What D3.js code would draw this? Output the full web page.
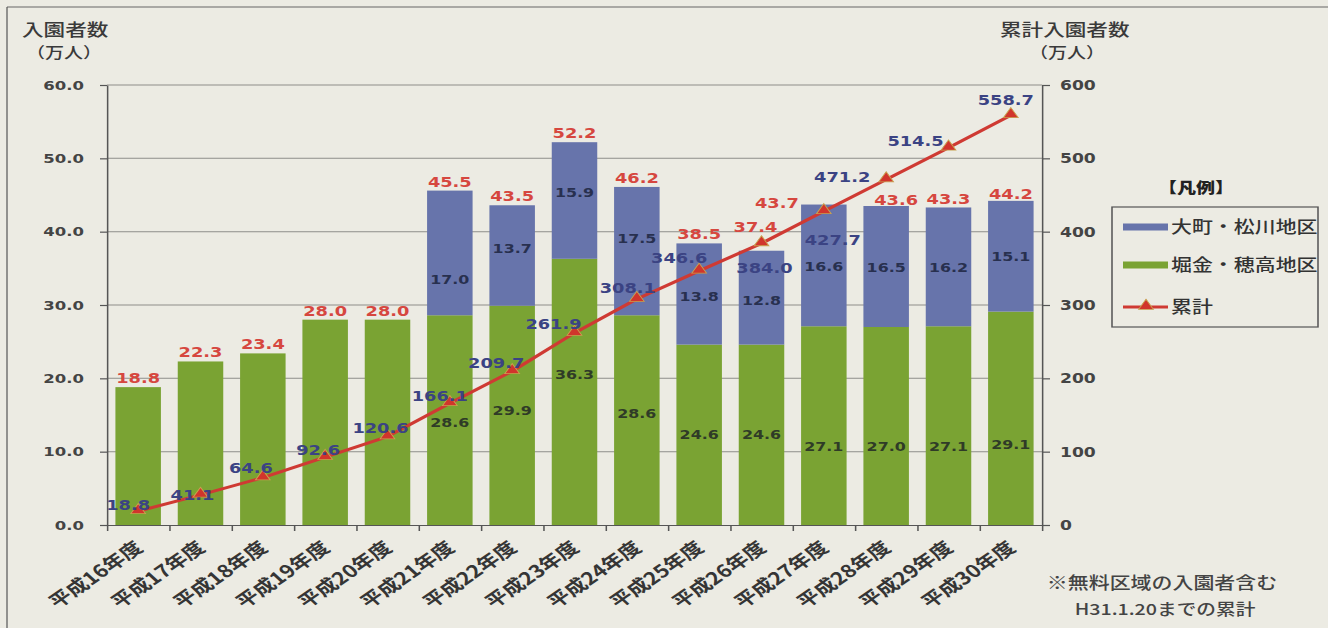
<!DOCTYPE html>
<html>
<head>
<meta charset="utf-8">
<script src="https://cdn.jsdelivr.net/npm/d3@7"></script>
<style>
  html, body { margin: 0; padding: 0; background: #ecebe3; }
  svg { display: block; }
</style>
</head>
<body>
<svg id="chart" width="1328" height="628"></svg>
<script>
// ---- data ----
const categories = ["平成16年度","平成17年度","平成18年度","平成19年度","平成20年度",
  "平成21年度","平成22年度","平成23年度","平成24年度","平成25年度",
  "平成26年度","平成27年度","平成28年度","平成29年度","平成30年度"];
const hotakaValues = [18.8, 22.3, 23.4, 28.0, 28.0, 28.6, 29.9, 36.3, 28.6, 24.6, 24.6, 27.1, 27.0, 27.1, 29.1];
const omachiValues = [0, 0, 0, 0, 0, 17.0, 13.7, 15.9, 17.5, 13.8, 12.8, 16.6, 16.5, 16.2, 15.1];
const totalValues = [18.8, 22.3, 23.4, 28.0, 28.0, 45.5, 43.5, 52.2, 46.2, 38.5, 37.4, 43.7, 43.6, 43.3, 44.2];
const cumulativeValues = [18.8, 41.1, 64.6, 92.6, 120.6, 166.1, 209.7, 261.9, 308.1, 346.6, 384.0, 427.7, 471.2, 514.5, 558.7];
const leftTicks = [0, 10, 20, 30, 40, 50, 60];
const rightTicks = [0, 100, 200, 300, 400, 500, 600];
const seriesNames = ["大町・松川地区", "堀金・穂高地区", "累計"];

// ---- layout ----
const SX = 1.27;                 // horizontal stretch applied to the whole drawing
const ux = px => px / SX;        // screen x -> drawing x
const plot = { left: 107, right: 1042, top: 85, bottom: 525 };
const colors = { omachi: "#6774ab", hotaka: "#7aa333", line: "#cf3a33",
  total: "#d6473f", cum: "#3b4383", axis: "#555", grid: "#8e8e8a", text: "#3a3a3a" };
const numFont = "'DejaVu Sans', Verdana, sans-serif";
const jpFont = "'Noto Sans CJK JP', 'Noto Sans', sans-serif";

// label nudges (screen px) for the cumulative labels, relative to each point
const cumNudge = [[-10,-6],[-8,0],[-12,-10],[-7,-7],[-7,-9],[-10,-7],[-16,-8],[-21,-9],
  [-9,-11],[-20,-13],[3,25],[9,29],[-44,-2],[-33,-7],[-5,-15]];
// nudges (screen px) for the total labels above the bars
const totalNudge = [[0,0],[0,0],[0,0],[0,0],[0,0],[0,0],[0,0],[0,0],[0,0],[0,0],
  [-6,-15],[-47,7],[10,3],[0,1],[0,2]];
// vertical nudges (screen px) for labels inside the segments
const omachiNudge = [0,0,0,0,0,27,-7,-8,-13,3,3,1,1,1,0];
const hotakaNudge = [0,0,0,0,0,2,-5,-17,-7,0,0,21,21,21,26];

const svg = d3.select("#chart");
svg.append("rect").attr("width", 1328).attr("height", 628).attr("fill", "#ecebe3");

// outer frame (top and left edges)
svg.append("line").attr("x1", 7).attr("x2", 1328).attr("y1", 7).attr("y2", 7)
  .attr("stroke", "#666").attr("stroke-width", 1.2);
svg.append("line").attr("x1", 7).attr("x2", 7).attr("y1", 7).attr("y2", 628)
  .attr("stroke", "#555").attr("stroke-width", 1.2);

const root = svg.append("g").attr("transform", `scale(${SX},1)`);

// ---- scales ----
const x = d3.scaleBand().domain(categories)
  .range([ux(plot.left), ux(plot.right)])
  .paddingInner(0.27).paddingOuter(0.135);
const xEdges = d3.scaleLinear().domain([0, categories.length])
  .range([ux(plot.left), ux(plot.right)]);
const yL = d3.scaleLinear().domain([0, 60]).range([plot.bottom, plot.top]);
const yR = d3.scaleLinear().domain([0, 600]).range([plot.bottom, plot.top]);
const cx = c => x(c) + x.bandwidth() / 2;

// ---- grid ----
root.append("g").selectAll("line").data(leftTicks.filter(v => v > 0)).join("line")
  .attr("x1", ux(plot.left)).attr("x2", ux(plot.right))
  .attr("y1", d => yL(d)).attr("y2", d => yL(d))
  .attr("stroke", colors.grid).attr("stroke-width", 1);

// ---- stacked bars ----
const rows = categories.map((c, i) => ({ cat: c, hotaka: hotakaValues[i], omachi: omachiValues[i] }));
const stacked = d3.stack().keys(["hotaka", "omachi"])(rows);
const fills = { hotaka: colors.hotaka, omachi: colors.omachi };
root.append("g").selectAll("g").data(stacked).join("g")
  .attr("fill", s => fills[s.key])
  .selectAll("rect").data(s => s.filter(d => d[1] > d[0])).join("rect")
  .attr("x", d => x(d.data.cat))
  .attr("width", x.bandwidth())
  .attr("y", d => yL(d[1]))
  .attr("height", d => yL(d[0]) - yL(d[1]));

// ---- axes ----
const styleAxis = (g, size) => {
  g.select(".domain").attr("stroke", colors.axis).attr("stroke-width", 1.2);
  g.selectAll(".tick line").attr("stroke", colors.axis).attr("stroke-width", 1.2);
  g.selectAll(".tick text").attr("fill", "#444").attr("font-family", numFont)
    .attr("font-weight", "bold").attr("font-size", size);
};
root.append("g").attr("transform", `translate(${ux(plot.left)},0)`)
  .call(d3.axisLeft(yL).tickValues(leftTicks).tickFormat(d3.format(".1f"))
    .tickSize(ux(7)).tickSizeOuter(0).tickPadding(ux(16)))
  .call(g => styleAxis(g, 13));
root.append("g").attr("transform", `translate(${ux(plot.right)},0)`)
  .call(d3.axisRight(yR).tickValues(rightTicks).tickFormat(d3.format("d"))
    .tickSize(ux(8)).tickSizeOuter(0).tickPadding(ux(10)))
  .call(g => styleAxis(g, 13.5));
root.append("g").attr("transform", `translate(0,${plot.bottom})`)
  .call(d3.axisBottom(xEdges).tickValues(d3.range(categories.length + 1))
    .tickFormat("").tickSize(6).tickSizeOuter(0))
  .call(g => styleAxis(g, 12));

// category labels, rotated
root.append("g").selectAll("text").data(categories).join("text")
  .attr("transform", c => `translate(${cx(c) + ux(1)},${plot.bottom + 20}) rotate(-41)`)
  .attr("text-anchor", "end").attr("dy", "0.35em")
  .attr("font-family", jpFont).attr("font-weight", 600).attr("font-size", 17.5)
  .attr("fill", "#353535").text(c => c);

// ---- segment labels ----
const segLabel = (vals, base, nudge, color) => {
  root.append("g").selectAll("text")
    .data(categories.map((c, i) => ({ c, i })).filter(d => omachiValues[d.i] > 0))
    .join("text")
    .attr("x", d => cx(d.c))
    .attr("y", d => yL(base(d.i) + vals[d.i] / 2) + nudge[d.i])
    .attr("dy", "0.36em").attr("text-anchor", "middle")
    .attr("font-family", numFont).attr("font-weight", "bold").attr("font-size", 12.5)
    .attr("fill", color).text(d => vals[d.i].toFixed(1));
};
segLabel(hotakaValues, () => 0, hotakaNudge, "#2f3b27");
segLabel(omachiValues, i => hotakaValues[i], omachiNudge, "#28304f");

// totals above bars
root.append("g").selectAll("text").data(categories).join("text")
  .attr("x", (c, i) => cx(c) + ux(totalNudge[i][0]))
  .attr("y", (c, i) => yL(hotakaValues[i] + omachiValues[i]) - 4 + totalNudge[i][1])
  .attr("text-anchor", "middle")
  .attr("font-family", numFont).attr("font-weight", "bold").attr("font-size", 14)
  .attr("fill", colors.total).text((c, i) => totalValues[i].toFixed(1));

// ---- cumulative line ----
const line = d3.line().x((d, i) => cx(categories[i])).y(d => yR(d));
root.append("path").datum(cumulativeValues)
  .attr("d", line).attr("fill", "none")
  .attr("stroke", colors.line).attr("stroke-width", 3).attr("stroke-linejoin", "round");
const tri = d3.symbol(d3.symbolTriangle, 58);
root.append("g").selectAll("path").data(cumulativeValues).join("path")
  .attr("transform", (d, i) => `translate(${cx(categories[i])},${yR(d) - 1})`)
  .attr("d", tri).attr("fill", "#d1352c").attr("stroke", "#c8a14e").attr("stroke-width", 0.8);
root.append("g").selectAll("text").data(cumulativeValues).join("text")
  .attr("x", (d, i) => cx(categories[i]) + ux(cumNudge[i][0]))
  .attr("y", (d, i) => yR(d) + cumNudge[i][1])
  .attr("dy", "0.36em").attr("text-anchor", "middle")
  .attr("font-family", numFont).attr("font-weight", "bold").attr("font-size", 14)
  .attr("fill", colors.cum).text(d => d.toFixed(1));

// ---- axis titles ----
const jpText = (px, y, str, opts = {}) => root.append("text")
  .attr("x", ux(px)).attr("y", y)
  .attr("text-anchor", opts.anchor || "start")
  .attr("font-family", jpFont).attr("font-weight", opts.weight || 500)
  .attr("font-size", opts.size || 17).attr("fill", opts.fill || colors.text)
  .text(str);
jpText(22, 36, "入園者数");
jpText(64, 58, "（万人）", { anchor: "middle", size: 15 });
jpText(1000, 36, "累計入園者数");
jpText(1067, 58, "（万人）", { anchor: "middle", size: 15 });

// ---- legend ----
jpText(1196, 193, "【凡例】", { anchor: "middle", size: 15, weight: 900, fill: "#222" });
root.append("rect").attr("x", ux(1112)).attr("y", 207)
  .attr("width", ux(1318) - ux(1112)).attr("height", 120)
  .attr("fill", "none").attr("stroke", "#555").attr("stroke-width", 1.2);
const legendRows = [
  { name: seriesNames[0], y: 227, kind: "bar", color: colors.omachi },
  { name: seriesNames[1], y: 265, kind: "bar", color: colors.hotaka },
  { name: seriesNames[2], y: 307, kind: "line", color: colors.line }
];
legendRows.forEach(r => {
  if (r.kind === "bar") {
    root.append("rect").attr("x", ux(1123)).attr("y", r.y - 3.5)
      .attr("width", ux(1168) - ux(1123)).attr("height", 7).attr("fill", r.color);
  } else {
    root.append("line").attr("x1", ux(1123)).attr("x2", ux(1168))
      .attr("y1", r.y).attr("y2", r.y).attr("stroke", r.color).attr("stroke-width", 3);
    root.append("path").attr("transform", `translate(${ux(1146)},${r.y - 1})`)
      .attr("d", tri).attr("fill", "#d1352c").attr("stroke", "#c8a14e").attr("stroke-width", 0.8);
  }
  jpText(1171, r.y + 6, r.name, { size: 16.5, fill: "#333" });
});

// ---- footnote ----
jpText(1162, 589, "※無料区域の入園者含む", { anchor: "middle", size: 16.5, fill: "#444" });
jpText(1165, 615, "H31.1.20までの累計", { anchor: "middle", size: 15.5, fill: "#444" });
</script>
</body>
</html>
